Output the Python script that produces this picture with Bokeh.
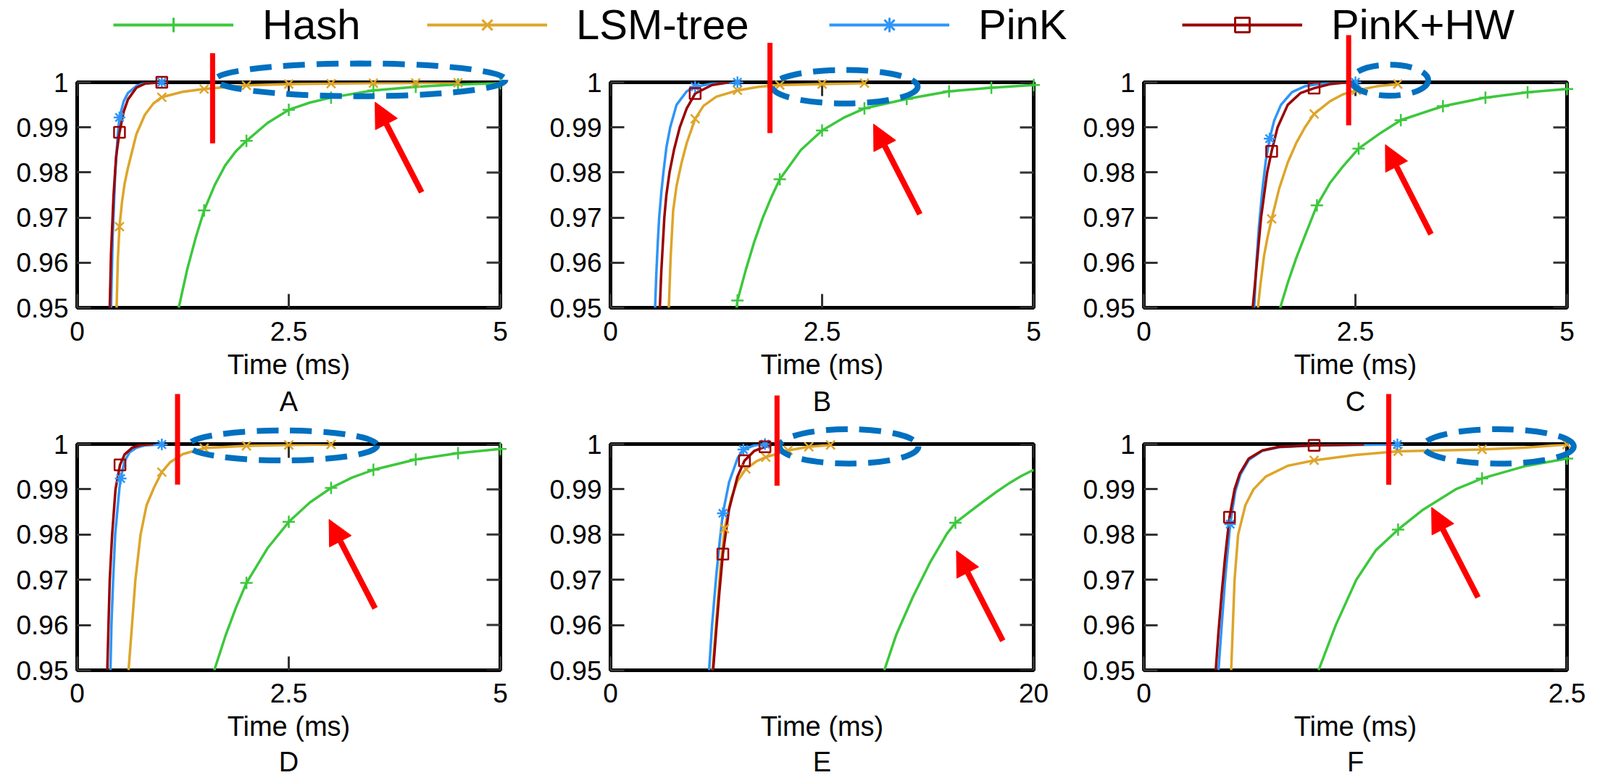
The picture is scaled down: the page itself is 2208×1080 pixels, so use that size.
from bokeh.plotting import figure
from bokeh.layouts import row, column
from bokeh.models import (Range1d, FixedTicker, LinearAxis, Legend, LegendItem, Title,
                          Arrow, NormalHead)
from bokeh.embed import file_html
from bokeh.resources import INLINE

FONT = "Liberation Sans"

# ---------------- data ----------------
SERIES = ["Hash", "LSM-tree", "PinK", "PinK+HW"]
PANELS = ["A", "B", "C", "D", "E", "F"]
X_END = {"A": 5, "B": 5, "C": 5, "D": 5, "E": 20, "F": 2.5}
X_TICKS = {"A": [0, 2.5, 5], "B": [0, 2.5, 5], "C": [0, 2.5, 5], "D": [0, 2.5, 5],
           "E": [0, 20], "F": [0, 2.5]}
X_LABELS = {"A": ["0", "2.5", "5"], "B": ["0", "2.5", "5"], "C": ["0", "2.5", "5"],
            "D": ["0", "2.5", "5"], "E": ["0", "20"], "F": ["0", "2.5"]}
Y_TICKS = [0.95, 0.96, 0.97, 0.98, 0.99, 1]
Y_LABELS = ["0.95", "0.96", "0.97", "0.98", "0.99", "1"]
X_TITLE = "Time (ms)"

# each series: t = time (ms), p = cumulative fraction, mk = times that carry a point marker
A_hash = dict(t=[1.2, 1.3, 1.4, 1.5, 1.625, 1.75, 1.875, 2.0, 2.25, 2.5, 2.75, 3.0, 3.5, 4.0, 4.5, 5.0],
              p=[0.95, 0.9585, 0.9655, 0.9716, 0.9772, 0.9816, 0.9847, 0.9870, 0.9910, 0.9939, 0.9955, 0.9966, 0.9982, 0.9990, 0.9995, 0.9998],
              mk=[1.5, 2.0, 2.5, 3.0, 3.5, 4.0, 4.5, 5.0])
A_lsm = dict(t=[0.466, 0.48, 0.5, 0.53, 0.56, 0.6, 0.65, 0.7, 0.8, 0.9, 1.0, 1.25, 1.5, 2.0, 2.5, 3.0, 3.5, 4.0, 4.5],
             p=[0.95, 0.9605, 0.968, 0.9735, 0.9775, 0.981, 0.9848, 0.9885, 0.9928, 0.9953, 0.9967, 0.9979, 0.9985, 0.9993, 0.9996, 0.9997, 0.9998, 0.99985, 0.9999],
             mk=[0.5, 1.0, 1.5, 2.0, 2.5, 3.0, 3.5, 4.0, 4.5])
A_pink = dict(t=[0.40, 0.42, 0.45, 0.48, 0.5, 0.55, 0.6, 0.7, 0.8, 1.0],
              p=[0.95, 0.966, 0.980, 0.9885, 0.9922, 0.9958, 0.9976, 0.9992, 0.9998, 1.0],
              mk=[0.5, 1.0])
A_pinkhw = dict(t=[0.385, 0.40, 0.43, 0.46, 0.5, 0.55, 0.6, 0.7, 0.8, 1.0],
                p=[0.95, 0.962, 0.975, 0.9835, 0.9889, 0.9935, 0.9962, 0.9988, 0.9997, 1.0],
                mk=[0.5, 1.0])

B_hash = dict(t=[1.49, 1.5, 1.6, 1.7, 1.8, 1.9, 2.0, 2.25, 2.5, 2.75, 3.0, 3.5, 4.0, 4.5, 5.0],
              p=[0.95, 0.9516, 0.9585, 0.9647, 0.9700, 0.9745, 0.9785, 0.9850, 0.9893, 0.9921, 0.9942, 0.9963, 0.9980, 0.9988, 0.9994],
              mk=[1.5, 2.0, 2.5, 3.0, 3.5, 4.0, 4.5, 5.0])
B_lsm = dict(t=[0.689, 0.71, 0.74, 0.78, 0.84, 0.9, 1.0, 1.1, 1.25, 1.5, 1.75, 2.0, 2.5, 3.0],
             p=[0.95, 0.961, 0.9715, 0.977, 0.9822, 0.9865, 0.9919, 0.9948, 0.9968, 0.9982, 0.9990, 0.9994, 0.9996, 0.9998],
             mk=[1.0, 1.5, 2.0, 2.5, 3.0])
B_pink = dict(t=[0.527, 0.54, 0.56, 0.575, 0.6, 0.625, 0.66, 0.705, 0.78, 0.9, 1.0, 1.2, 1.5],
              p=[0.95, 0.957, 0.965, 0.970, 0.9755, 0.980, 0.9855, 0.990, 0.995, 0.9980, 0.9990, 0.9997, 1.0],
              mk=[1.0, 1.5])
B_pinkhw = dict(t=[0.583, 0.6, 0.636, 0.66, 0.697, 0.75, 0.818, 0.9, 1.0, 1.2, 1.4],
                p=[0.95, 0.958, 0.970, 0.975, 0.980, 0.985, 0.990, 0.9942, 0.9975, 0.9994, 1.0],
                mk=[1.0])

C_hash = dict(t=[1.611, 1.7, 1.8, 1.9, 2.045, 2.2, 2.35, 2.538, 2.8, 3.036, 3.534, 4.036, 4.534, 5.0],
              p=[0.95, 0.9555, 0.961, 0.9658, 0.9727, 0.9777, 0.9813, 0.9853, 0.9888, 0.9916, 0.9947, 0.9966, 0.9978, 0.9985],
              mk=[2.045, 2.538, 3.036, 3.534, 4.036, 4.534, 5.0])
C_lsm = dict(t=[1.348, 1.38, 1.42, 1.46, 1.51, 1.6, 1.7, 1.8, 1.9, 2.012, 2.2, 2.35, 2.51, 2.75, 3.0],
             p=[0.95, 0.9555, 0.9615, 0.9655, 0.9697, 0.9765, 0.9822, 0.9865, 0.9899, 0.9930, 0.9958, 0.9973, 0.9982, 0.9991, 0.9996],
             mk=[1.51, 2.012, 2.51, 3.0])
C_pink = dict(t=[1.304, 1.33, 1.36, 1.40, 1.44, 1.486, 1.54, 1.62, 1.75, 1.9, 2.1, 2.5],
              p=[0.95, 0.96, 0.968, 0.976, 0.9825, 0.9875, 0.9915, 0.995, 0.9978, 0.9991, 0.9997, 1.0],
              mk=[1.486, 2.5])
C_pinkhw = dict(t=[1.287, 1.336, 1.385, 1.457, 1.51, 1.58, 1.7, 1.85, 2.012, 2.2, 2.4],
                p=[0.95, 0.96, 0.97, 0.98, 0.9847, 0.99, 0.995, 0.9976, 0.9987, 0.9996, 1.0],
                mk=[1.51, 2.012])

D_hash = dict(t=[1.62, 1.75, 1.875, 2.0, 2.25, 2.5, 2.75, 3.0, 3.25, 3.5, 4.0, 4.5, 5.0],
              p=[0.95, 0.9575, 0.9638, 0.9693, 0.9770, 0.9828, 0.9871, 0.9903, 0.9926, 0.9943, 0.9966, 0.9980, 0.9989],
              mk=[2.0, 2.5, 3.0, 3.5, 4.0, 4.5, 5.0])
D_lsm = dict(t=[0.607, 0.648, 0.688, 0.749, 0.82, 0.911, 1.0, 1.1, 1.25, 1.5, 2.0, 2.5, 3.0],
             p=[0.95, 0.96, 0.97, 0.98, 0.9865, 0.9905, 0.9938, 0.9960, 0.9978, 0.9991, 0.9996, 0.9998, 0.9999],
             mk=[1.0, 1.5, 2.0, 2.5, 3.0])
D_pink = dict(t=[0.393, 0.405, 0.425, 0.449, 0.498, 0.514, 0.56, 0.62, 0.7, 0.8, 1.0],
              p=[0.95, 0.96, 0.97, 0.98, 0.99, 0.9924, 0.9962, 0.9982, 0.9992, 0.9997, 0.9999],
              mk=[0.514, 1.0])
D_pinkhw = dict(t=[0.356, 0.37, 0.385, 0.413, 0.453, 0.506, 0.56, 0.65, 0.75, 0.9],
                p=[0.95, 0.96, 0.97, 0.98, 0.99, 0.9954, 0.9977, 0.9992, 0.9998, 1.0],
                mk=[0.506])

E_hash = dict(t=[12.94, 13.5, 14.3, 15.1, 15.9, 16.3, 17.0, 17.56, 18.2, 18.86, 19.4, 20.0],
              p=[0.95, 0.9578, 0.9663, 0.9738, 0.9802, 0.9826, 0.9851, 0.9871, 0.9893, 0.9914, 0.9929, 0.9943],
              mk=[16.3])
E_lsm = dict(t=[4.82, 5.0, 5.2, 5.39, 5.7, 6.0, 6.4, 6.9, 7.34, 8.39, 9.37, 10.4],
             p=[0.95, 0.961, 0.973, 0.9813, 0.988, 0.9918, 0.9945, 0.9962, 0.9971, 0.9986, 0.9994, 0.9998],
             mk=[5.39, 6.4, 7.34, 8.39, 9.37, 10.4])
E_pink = dict(t=[4.66, 4.8, 5.0, 5.15, 5.31, 5.6, 6.0, 6.28, 6.8, 7.3],
              p=[0.95, 0.96, 0.971, 0.978, 0.9847, 0.9915, 0.9968, 0.9988, 0.9997, 1.0],
              mk=[5.31, 6.28, 7.3])
E_pinkhw = dict(t=[4.85, 5.0, 5.15, 5.31, 5.6, 6.0, 6.33, 6.8, 7.3, 7.6],
                p=[0.95, 0.959, 0.9675, 0.9757, 0.9855, 0.9928, 0.9963, 0.9985, 0.9994, 0.9998],
                mk=[5.31, 6.33, 7.3])

F_hash = dict(t=[1.032, 1.134, 1.255, 1.37, 1.502, 1.65, 1.842, 1.998, 2.25, 2.5],
              p=[0.95, 0.96, 0.97, 0.9765, 0.9811, 0.9855, 0.99, 0.9924, 0.9951, 0.9968],
              mk=[1.502, 1.998, 2.5])
F_lsm = dict(t=[0.516, 0.536, 0.557, 0.6, 0.648, 0.72, 0.85, 1.006, 1.25, 1.502, 1.75, 1.998, 2.25, 2.5],
             p=[0.95, 0.97, 0.98, 0.9865, 0.99, 0.9928, 0.9952, 0.9964, 0.9976, 0.9984, 0.9986, 0.9988, 0.9992, 0.9999],
             mk=[1.006, 1.502, 1.998, 2.5])
F_pink = dict(t=[0.441, 0.46, 0.48, 0.51, 0.54, 0.57, 0.62, 0.7, 0.8, 1.0, 1.498],
              p=[0.95, 0.960, 0.970, 0.9823, 0.9895, 0.9932, 0.9965, 0.9985, 0.9993, 0.9997, 0.9999],
              mk=[0.51, 1.498])
F_pinkhw = dict(t=[0.425, 0.44, 0.46, 0.48, 0.506, 0.536, 0.567, 0.62, 0.7, 0.8, 1.006, 1.3],
                p=[0.95, 0.958, 0.967, 0.975, 0.9838, 0.99, 0.9935, 0.9968, 0.9986, 0.9994, 0.9997, 0.9999],
                mk=[0.506, 1.006])

PANEL_DATA = {
    "A": [A_hash, A_lsm, A_pink, A_pinkhw],
    "B": [B_hash, B_lsm, B_pink, B_pinkhw],
    "C": [C_hash, C_lsm, C_pink, C_pinkhw],
    "D": [D_hash, D_lsm, D_pink, D_pinkhw],
    "E": [E_hash, E_lsm, E_pink, E_pinkhw],
    "F": [F_hash, F_lsm, F_pink, F_pinkhw],
}

# annotation overlays (panel data coordinates)
VLINE = {"A": (1.6, 0.98646, 1.00646), "B": (1.884, 0.98874, 1.00874), "C": (2.42, 0.99046, 1.01046),
         "D": (1.186, 0.99103, 1.01106), "E": (7.87, 0.9908, 1.01074), "F": (1.447, 0.991, 1.01106)}
ELLIPSE = {"A": (3.345, 1.00054, 3.43, 0.00726), "B": (2.77, 0.99903, 1.72, 0.00743),
           "C": (2.905, 1.00046, 0.91, 0.00686), "D": (2.43, 0.99969, 2.23, 0.00662),
           "E": (11.27, 0.99948, 6.57, 0.00762), "F": (2.095, 0.99948, 0.89, 0.00762)}
ARROW = {"A": (4.07, 0.9756, 3.52, 0.9956), "B": (3.655, 0.97074, 3.108, 0.99074),
         "C": (3.393, 0.96629, 2.854, 0.98617), "D": (3.52, 0.96368, 2.976, 0.98335),
         "E": (18.54, 0.95651, 16.35, 0.97644), "F": (1.974, 0.9661, 1.70, 0.986)}

# ---------------- styles ----------------
COLORS = {"Hash": "#3CC83C", "LSM-tree": "#DDA52A", "PinK": "#2E95F8", "PinK+HW": "#990000"}
MARKERS = {"Hash": "cross", "LSM-tree": "x", "PinK": "asterisk", "PinK+HW": "square"}
MSIZE = {"Hash": 17, "LSM-tree": 17, "PinK": 16, "PinK+HW": 15}
LEG_MSIZE = {"Hash": 21, "LSM-tree": 22, "PinK": 21, "PinK+HW": 21}
LEG_X = [156, 589, 1144, 1631]
RED = "#FF0000"
BLUE = "#0070C0"
TICK_COLOR = "#333333"
TICK_LEN = 19          # px, ticks point into the frame
FRAME_W, FRAME_H = 584, 311


def style_axis(ax):
    ax.axis_line_color = None
    ax.major_tick_in = TICK_LEN
    ax.major_tick_out = 0
    ax.major_tick_line_color = TICK_COLOR
    ax.major_tick_line_width = 3
    ax.minor_tick_line_color = None
    ax.major_label_text_font = FONT
    ax.major_label_text_font_size = "37px"
    ax.major_label_text_color = "black"


def make_panel(key, top):
    h = 600 if top else 550
    xend = X_END[key]
    p = figure(width=736, height=h, x_range=Range1d(0, xend), y_range=Range1d(0.95, 1.0),
               x_axis_type=None, y_axis_type=None, output_backend="svg", toolbar_location=None,
               min_border_left=106, min_border_right=46,
               min_border_top=113 if top else 82, min_border_bottom=176 if top else 156)
    p.border_fill_color = None
    p.background_fill_color = "white"
    p.outline_line_color = "black"
    p.outline_line_width = 5

    xt = X_TICKS[key]
    xb = LinearAxis(ticker=FixedTicker(ticks=xt),
                    major_label_overrides={t: l for t, l in zip(xt, X_LABELS[key])},
                    axis_label=X_TITLE)
    style_axis(xb)
    xb.major_label_standoff = 19 if top else 18
    xb.axis_label_text_font = FONT
    xb.axis_label_text_font_size = "38px"
    xb.axis_label_text_font_style = "normal"
    xb.axis_label_text_color = "black"
    xb.axis_label_standoff = 9
    p.add_layout(xb, "below")

    yl = LinearAxis(ticker=FixedTicker(ticks=Y_TICKS),
                    major_label_overrides={t: l for t, l in zip(Y_TICKS, Y_LABELS)})
    style_axis(yl)
    yl.major_label_standoff = 12
    p.add_layout(yl, "left")

    # mirrored tick marks on the right and top edges (same tick lists, no labels)
    dx = xend * TICK_LEN / FRAME_W
    dy = 0.05 * TICK_LEN / FRAME_H
    p.segment(x0=[xend - dx] * len(Y_TICKS), y0=Y_TICKS, x1=[xend] * len(Y_TICKS), y1=Y_TICKS,
              line_color=TICK_COLOR, line_width=3)
    p.segment(x0=xt, y0=[1.0 - dy] * len(xt), x1=xt, y1=[1.0] * len(xt),
              line_color=TICK_COLOR, line_width=3)

    p.add_layout(Title(text=key, align="center", text_font=FONT, text_font_size="38px",
                       text_font_style="normal", text_color="black",
                       standoff=9 if top else 4), "below")

    for s, d in zip(SERIES, PANEL_DATA[key]):
        p.line(d["t"], d["p"], line_color=COLORS[s], line_width=3.5)
        idx = [d["t"].index(v) for v in d["mk"]]
        p.scatter([d["t"][i] for i in idx], [d["p"][i] for i in idx], marker=MARKERS[s],
                  size=MSIZE[s], line_color=COLORS[s], fill_color=None, line_width=2.5,
                  level="overlay")

    cx, cy, w, hh = ELLIPSE[key]
    p.ellipse(x=[cx], y=[cy], width=[w], height=[hh], fill_color=None, line_color=BLUE,
              line_width=8, line_dash="30 16", level="overlay")
    vx, vy0, vy1 = VLINE[key]
    p.segment(x0=[vx], y0=[vy0], x1=[vx], y1=[vy1], line_color=RED, line_width=7,
              line_cap="butt", level="overlay")
    ax0, ay0, ax1, ay1 = ARROW[key]
    p.add_layout(Arrow(end=NormalHead(size=34, fill_color=RED, line_color=RED, line_width=1),
                       x_start=ax0, y_start=ay0, x_end=ax1, y_end=ay1,
                       line_color=RED, line_width=8))
    return p


# legend strip (sample glyphs use an off-canvas point so the legend can draw them)
leg = figure(width=2208, height=80, x_range=Range1d(0, 1), y_range=Range1d(0, 1),
             x_axis_type=None, y_axis_type=None, output_backend="svg", toolbar_location=None,
             min_border=0, margin=(0, 0, -80, 0))
leg.outline_line_color = None
leg.border_fill_color = None
leg.background_fill_color = None
for s, x0 in zip(SERIES, LEG_X):
    lr = leg.line([-10, -9], [-10, -10], line_color=COLORS[s], line_width=4)
    sr = leg.scatter([-10], [-10], marker=MARKERS[s], size=LEG_MSIZE[s], line_color=COLORS[s],
                     fill_color=None, line_width=3)
    lg = Legend(items=[LegendItem(label=s, renderers=[lr, sr])], location=(x0, 13),
                orientation="horizontal", glyph_width=166, glyph_height=50, label_standoff=40,
                label_text_font=FONT, label_text_font_size="58px", label_text_color="black",
                padding=0, margin=0, spacing=0, border_line_color=None,
                background_fill_alpha=0)
    leg.add_layout(lg, "center")

top_row = row(*[make_panel(k, True) for k in PANELS[:3]], margin=(0, 0, -70, 0))
bottom_row = row(*[make_panel(k, False) for k in PANELS[3:]])
layout = column(leg, top_row, bottom_row)

open("out.html", "w").write(file_html(layout, INLINE))
